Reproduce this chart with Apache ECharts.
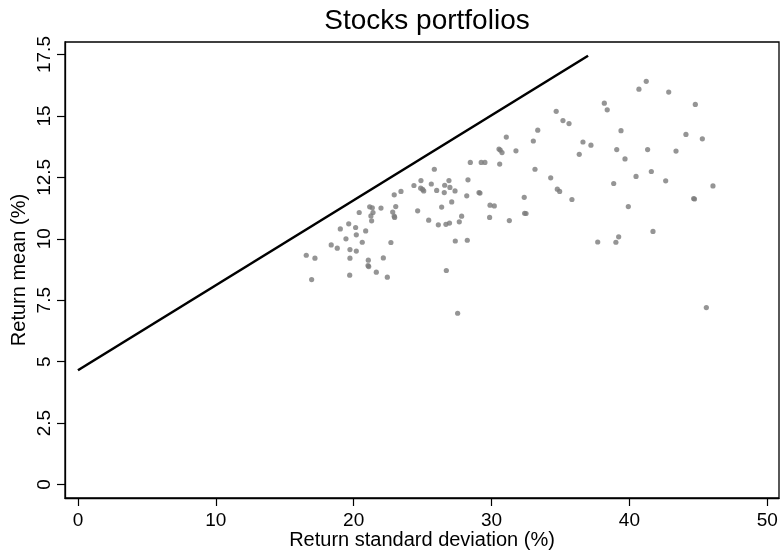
<!DOCTYPE html>
<html>
<head>
<meta charset="utf-8">
<script src="https://cdn.jsdelivr.net/npm/echarts@6/dist/echarts.min.js"></script>
<style>html,body{margin:0;padding:0;background:#fff}#c{width:782px;height:552px}</style>
</head>
<body>
<div id="c"></div>
<script>
const xTicks = [0, 10, 20, 30, 40, 50];
const yTicks = [0, 2.5, 5, 7.5, 10, 12.5, 15, 17.5];
const portfolioSd = [
25.85,24.88,24.37,24.86,25.00,25.08,25.63,26.02,26.60,26.57,
23.43,22.94,21.16,21.35,21.40,21.25,21.30,20.40,21.98,23.05,
22.83,22.94,22.97,24.64,26.38,25.44,26.14,26.69,26.95,19.03,
19.64,20.14,19.44,20.19,20.87,20.62,18.37,18.81,19.73,20.19,
22.70,16.56,17.19,19.73,21.06,22.15,21.04,21.09,21.64,19.71,
22.44,16.95,26.72,27.54,38.18,38.39,34.69,35.18,35.62,33.35,
33.03,31.07,30.54,30.63,30.76,31.77,28.46,29.25,29.52,30.59,
33.15,34.29,34.77,34.94,35.83,36.63,37.21,36.36,39.08,38.86,
39.39,26.91,26.98,27.35,28.29,28.20,29.09,29.16,27.11,29.89,
30.20,32.37,27.83,27.66,29.86,31.29,32.40,32.50,27.37,28.24,
37.70,39.02,39.22,41.22,40.69,42.85,44.78,44.10,45.29,41.32,
43.38,39.68,41.59,40.48,42.63,46.06,44.66,44.72,39.92,41.71,
45.58];
const portfolioMean = [
12.83,12.37,12.17,12.06,12.01,11.95,12.23,11.97,12.18,11.88,
11.93,11.79,11.30,11.26,11.07,10.93,10.73,11.07,11.25,11.31,
11.09,10.92,10.87,11.14,11.29,10.76,10.57,10.59,10.64,10.40,
10.61,10.46,10.00,10.16,10.32,9.86,9.75,9.62,9.56,9.50,
9.85,9.33,9.21,9.21,9.13,9.22,8.91,8.87,8.64,8.52,
8.44,8.34,8.71,6.97,15.52,15.25,15.19,14.81,14.69,14.42,
13.98,14.14,13.65,13.61,13.51,13.58,13.11,13.11,13.11,13.04,
12.83,12.48,12.02,11.93,11.60,13.94,13.81,13.44,13.63,12.25,
14.40,12.37,12.09,11.95,12.40,11.75,11.88,11.86,11.50,11.37,
11.34,11.69,10.92,10.69,10.87,10.74,11.04,11.03,9.91,9.94,
9.87,9.86,10.08,16.41,16.09,15.97,15.47,14.25,14.07,13.63,
13.57,13.25,12.74,12.54,12.36,12.15,11.64,11.62,11.31,10.30,
7.20];
const lineSd = [0, 37.0];
const lineMean = [4.65, 17.45];

const font = 'Liberation Sans, Arial, Helvetica, sans-serif';
const chart = echarts.init(document.getElementById('c'), null, {renderer: 'canvas'});
chart.setOption({
  animation: false,
  backgroundColor: '#fff',
  title: {
    text: 'Stocks portfolios',
    left: 422, top: 2, textAlign: 'center',
    textStyle: {fontFamily: font, fontSize: 28, fontWeight: 'normal', color: '#000'}
  },
  grid: {left: 65, right: 3, top: 42, bottom: 54, containLabel: false, outerBoundsMode: 'none',
         show: true, borderColor: '#000', borderWidth: 1.3, backgroundColor: 'transparent'},
  xAxis: {
    type: 'value', min: -0.94, max: 50.85,
    name: 'Return standard deviation (%)', nameLocation: 'middle', nameGap: 32, nameMoveOverlap: false,
    nameTextStyle: {fontFamily: font, fontSize: 20, color: '#000'},
    axisLine: {show: true, onZero: false, lineStyle: {color: '#000', width: 1.3}},
    axisTick: {show: true, inside: false, length: 8, customValues: xTicks, lineStyle: {color: '#000', width: 1.2}},
    axisLabel: {customValues: xTicks, margin: 13, fontFamily: font, fontSize: 19, color: '#000'},
    splitLine: {show: false}
  },
  yAxis: {
    type: 'value', min: -0.55, max: 18.01,
    name: 'Return mean (%)', nameLocation: 'middle', nameGap: 36, nameMoveOverlap: false,
    nameTextStyle: {fontFamily: font, fontSize: 20, color: '#000'},
    axisLine: {show: true, onZero: false, lineStyle: {color: '#000', width: 1.3}},
    axisTick: {show: true, inside: false, length: 8, customValues: yTicks, lineStyle: {color: '#000', width: 1.2}},
    axisLabel: {customValues: yTicks, rotate: 90, margin: 11, fontFamily: font, fontSize: 19, color: '#000'},
    splitLine: {show: false}
  },
  series: [
    {
      type: 'scatter',
      data: portfolioSd.map((v, i) => [v, portfolioMean[i]]),
      symbol: 'circle', symbolSize: 5.2,
      itemStyle: {color: '#7a7a7a'}
    },
    {
      type: 'line',
      data: lineSd.map((v, i) => [v, lineMean[i]]),
      symbol: 'none',
      lineStyle: {color: '#000', width: 2.6}
    }
  ]
});
</script>
</body>
</html>
